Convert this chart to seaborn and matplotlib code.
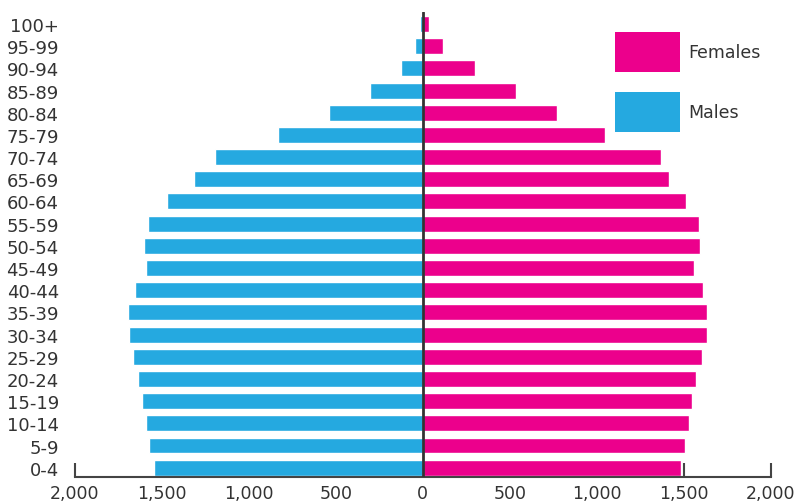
import numpy as np
import pandas as pd
import matplotlib
matplotlib.use("Agg")
import matplotlib.pyplot as plt
from matplotlib.patches import Patch
from matplotlib.ticker import FuncFormatter
import seaborn as sns

# Age bands, top of pyramid first
age_groups = ["100+", "95-99", "90-94", "85-89", "80-84", "75-79", "70-74",
              "65-69", "60-64", "55-59", "50-54", "45-49", "40-44", "35-39",
              "30-34", "25-29", "20-24", "15-19", "10-14", "5-9", "0-4"]
males = [15, 42, 128, 301, 537, 830, 1193,
         1314, 1469, 1579, 1602, 1590, 1654, 1694,
         1688, 1665, 1636, 1613, 1590, 1573, 1544]
females = [33, 119, 298, 534, 769, 1046, 1368,
           1414, 1512, 1587, 1592, 1558, 1610, 1633,
           1633, 1604, 1569, 1546, 1529, 1506, 1483]
x_ticks = [-2000, -1500, -1000, -500, 0, 500, 1000, 1500, 2000]

MALE_COLOR = "#25A9E0"
FEMALE_COLOR = "#EC008C"
TEXT_COLOR = "#333333"

sns.set_theme(style="white")
plt.rcParams["font.family"] = ["DejaVu Sans"]

df = pd.DataFrame({"age": age_groups,
                   "males": -np.array(males),
                   "females": np.array(females)})

fig = plt.figure(figsize=(7.96, 5.02), dpi=100)
ax = fig.add_axes([0.0942, 0.0478, 0.8739, 0.9263])

sns.barplot(data=df, x="males", y="age", order=age_groups, orient="h",
            color=MALE_COLOR, width=0.72, saturation=1, ax=ax)
sns.barplot(data=df, x="females", y="age", order=age_groups, orient="h",
            color=FEMALE_COLOR, width=0.72, saturation=1, ax=ax)

# zero line drawn over the bars
ax.axvline(0, color=TEXT_COLOR, lw=2, zorder=5)

ax.set_xlim(-2000, 2000)
ax.set_ylim(20.42, -0.54)
ax.set_xticks(x_ticks)
ax.xaxis.set_major_formatter(FuncFormatter(lambda v, p: f"{abs(int(v)):,}"))
ax.set_xlabel("")
ax.set_ylabel("")

for side in ["top", "right", "left"]:
    ax.spines[side].set_visible(False)
ax.spines["bottom"].set_color("#444444")
ax.spines["bottom"].set_linewidth(1.5)
ax.spines["bottom"].set_bounds(-2000, 2000)

ax.tick_params(axis="x", direction="in", length=10, width=1.5, color="#444444",
               labelsize=12.5, labelcolor=TEXT_COLOR, pad=5, bottom=True)
ax.tick_params(axis="y", length=0, labelsize=13, labelcolor=TEXT_COLOR, pad=11.5)

handles = [Patch(facecolor=FEMALE_COLOR, edgecolor="none", label="Females"),
           Patch(facecolor=MALE_COLOR, edgecolor="none", label="Males")]
leg = fig.legend(handles=handles, loc="upper left",
                 bbox_to_anchor=(0.7726, 0.9343), frameon=False,
                 fontsize=12.5, borderpad=0, borderaxespad=0,
                 handlelength=3.74, handleheight=3.17, labelspacing=1.13,
                 handletextpad=0.46)
for t in leg.get_texts():
    t.set_color(TEXT_COLOR)

fig.savefig("out.png", dpi=100)
